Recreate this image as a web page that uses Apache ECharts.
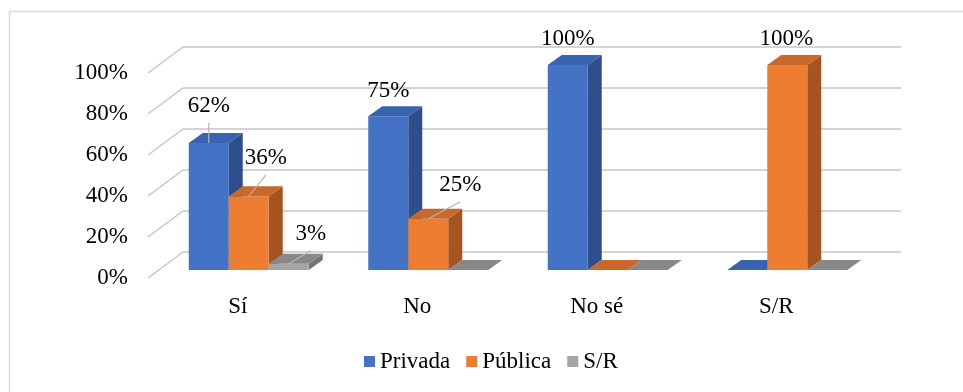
<!DOCTYPE html>
<html>
<head>
<meta charset="utf-8">
<script src="https://cdn.jsdelivr.net/npm/echarts@6/dist/echarts.min.js"></script>
<style>
html,body{margin:0;padding:0;background:#fff;}
#chart{width:963px;height:392px;}
</style>
</head>
<body>
<div id="chart"></div>
<script>
// ---- data ----
const categories = ['Sí', 'No', 'No sé', 'S/R'];
const seriesNames = ['Privada', 'Pública', 'S/R'];
const privada = [62, 75, 100, 0];
const publica = [36, 25, 0, 100];
const sinRespuesta = [3, 0, 0, 0];
const yTicks = [0, 20, 40, 60, 80, 100];

// ---- styles / layout ----
const FONT = '"Liberation Serif", "Times New Roman", serif';
const FS = 23;
const WALL = { left: 183, top: 47, width: 718, height: 205 };
const WALL_DEPTH = [-35, 26];   // back wall -> front plane
const BAR_FRONT = [-24, 18];    // back wall -> bar front face
const BAR_DEPTH = [14, -10];    // bar front face -> bar back face
const BAR_FRAC = 40 / 179.5;
const palette = [
  { front: '#4472C4', top: '#3963AE', side: '#2E4F8C' },
  { front: '#ED7D31', top: '#C8682A', side: '#A65422' },
  { front: '#A5A5A5', top: '#888888', side: '#747474' }
];
// label nudges relative to the bar's front-top centre: [dx, dy, leader]
const labelNudge = [
  [[0, -37, true], [0, -25, false], [0, -26, false], null],
  [[17, -38, true], [32, -34, true], null, [-1, -26, false]],
  [[22, -30, true], null, null, null]
];

const allSeries = [privada, publica, sinRespuesta];

function barRender(params, api) {
  const s = params.seriesIndex;
  const cat = api.value(0);
  const val = api.value(1);
  const c0 = api.coord([cat, 0]);
  const cv = api.coord([cat, val]);
  const band = api.size([1, 0])[0];
  const bw = band * BAR_FRAC;
  const col = palette[s];
  const xl = c0[0] + BAR_FRONT[0] + (s - 1.5) * bw;
  const xr = xl + bw;
  const yb = c0[1] + BAR_FRONT[1];
  const yt = cv[1] + BAR_FRONT[1];
  const dx = BAR_DEPTH[0], dy = BAR_DEPTH[1];
  const children = [];
  if (val > 0) {
    children.push({ type: 'polygon', shape: { points: [[xr, yt], [xr + dx, yt + dy], [xr + dx, yb + dy], [xr, yb]] }, style: { fill: col.side } });
    children.push({ type: 'polygon', shape: { points: [[xl, yt], [xr, yt], [xr, yb], [xl, yb]] }, style: { fill: col.front } });
  }
  children.push({ type: 'polygon', shape: { points: [[xl, yt], [xl + dx, yt + dy], [xr + dx, yt + dy], [xr, yt]] }, style: { fill: col.top } });
  const nudge = labelNudge[s][params.dataIndex];
  if (val > 0 && nudge) {
    const cx = (xl + xr) / 2;
    const lx = cx + nudge[0], ly = yt + nudge[1];
    if (nudge[2]) {
      children.push({ type: 'line', shape: { x1: lx, y1: ly + 17, x2: cx, y2: yt }, style: { stroke: '#b4b4b4', lineWidth: 1.2 } });
    }
    children.push({ type: 'text', style: { text: val + '%', x: lx, y: ly, align: 'center', verticalAlign: 'middle', textAlign: 'center', textVerticalAlign: 'middle', fontSize: FS, fontFamily: FONT, fill: '#000' } });
  }
  return { type: 'group', children: children };
}

function wallRender(params, api) {
  const v = api.value(1);
  const p = api.coord([0, v]);
  const band = api.size([1, 0])[0];
  const x0 = p[0] - band / 2;
  return { type: 'line', shape: { x1: x0, y1: p[1], x2: x0 + WALL_DEPTH[0], y2: p[1] + WALL_DEPTH[1] }, style: { stroke: '#c6c6c6', lineWidth: 1.5 } };
}

const chart = echarts.init(document.getElementById('chart'), null, { renderer: 'canvas' });
const option = {
  animation: false,
  backgroundColor: '#fff',
  graphic: [{ type: 'rect', shape: { x: 9.5, y: 11.5, width: 1000, height: 500 }, style: { fill: 'none', stroke: '#d9d9d9', lineWidth: 1.5 }, z: -1 }],
  legend: {
    data: seriesNames,
    left: 359, top: 345,
    icon: 'rect', itemWidth: 11, itemHeight: 11, itemGap: 16,
    textStyle: { fontSize: FS, fontFamily: FONT, color: '#000' }
  },
  grid: [
    { left: WALL.left, top: WALL.top, width: WALL.width, height: WALL.height },
    { left: WALL.left + WALL_DEPTH[0], top: WALL.top + WALL_DEPTH[1], width: WALL.width, height: WALL.height }
  ],
  xAxis: [
    { gridIndex: 0, type: 'category', data: categories, show: false },
    { gridIndex: 1, type: 'category', data: categories, axisLine: { show: false }, axisTick: { show: false },
      axisLabel: { fontSize: FS, fontFamily: FONT, color: '#000', margin: 17 } }
  ],
  yAxis: [
    { gridIndex: 0, type: 'value', min: 0, max: 100, interval: 20, axisLabel: { show: false }, axisLine: { show: false }, axisTick: { show: false },
      splitLine: { show: true, lineStyle: { color: '#c6c6c6', width: 1.5 } } },
    { gridIndex: 1, type: 'value', min: 0, max: 100, interval: 20, axisLine: { show: false }, axisTick: { show: false }, splitLine: { show: false },
      axisLabel: { formatter: '{value}%', fontSize: FS, fontFamily: FONT, color: '#000', margin: 20 } }
  ],
  series: seriesNames.map((name, i) => ({
    name: name,
    type: 'custom',
    xAxisIndex: 0, yAxisIndex: 0,
    renderItem: barRender,
    itemStyle: { color: palette[i].front },
    data: allSeries[i].map((v, k) => [k, v]),
    z: 3 + i
  })).concat([{
    name: 'wall',
    type: 'custom',
    xAxisIndex: 0, yAxisIndex: 0,
    renderItem: wallRender,
    data: yTicks.map(v => [0, v]),
    z: 1,
    silent: true
  }])
};
chart.setOption(option);
</script>
</body>
</html>
